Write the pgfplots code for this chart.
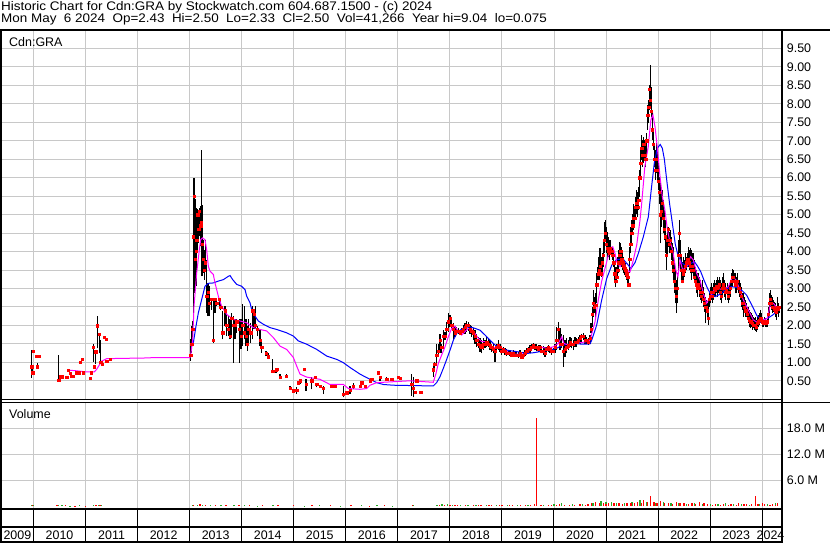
\documentclass[border=0pt]{standalone}
\usepackage{pgfplots}
\pgfplotsset{compat=1.18}
\usepackage{pgfplotstable}
\usepackage{fontspec}
\setmainfont{Liberation Sans}

\definecolor{gridc}{RGB}{200,200,200}
\definecolor{mafast}{RGB}{255,0,255}
\definecolor{maslow}{RGB}{0,0,255}
\definecolor{volred}{RGB}{255,0,0}
\definecolor{volgreen}{RGB}{40,170,40}
\newcommand{\lbl}{\fontsize{12.5}{14}\selectfont}

% daily bars: low, high, close
\pgfplotstableread{
x lo hi cl
2009.964 0.58 1.33 0.88
2009.984 0.70 0.93 0.72
2009.996 1.31 1.31 1.31
2010.048 1.17 1.17 1.17
2010.073 0.86 0.97 0.88
2010.105 1.17 1.17 1.17
2010.483 0.49 1.19 0.52
2010.509 0.57 0.66 0.61
2010.541 0.61 0.61 0.61
2010.637 0.59 0.59 0.59
2010.669 0.79 0.79 0.79
2010.701 0.70 0.70 0.70
2010.733 0.63 0.63 0.63
2010.765 0.63 0.63 0.63
2010.816 0.72 0.72 0.72
2010.880 0.72 0.72 0.72
2010.893 1.01 1.01 1.01
2010.931 1.08 1.08 1.08
2010.957 0.72 0.72 0.72
2011.085 0.58 0.58 0.58
2011.104 0.72 0.72 0.72
2011.149 1.01 1.49 1.42
2011.168 0.88 0.88 0.88
2011.194 0.95 1.29 1.29
2011.226 1.38 2.25 1.99
2011.264 1.24 1.78 1.76
2011.290 0.97 1.60 1.00
2011.316 0.95 0.95 0.95
2011.360 1.69 1.69 1.69
2011.392 1.62 1.62 1.62
2011.405 1.02 1.02 1.02
2011.469 1.08 1.08 1.08
2013.020 1.04 1.62 1.20
2013.039 1.26 1.98 1.50
2013.058 1.44 2.12 1.90
2013.071 2.34 5.81 4.40
2013.084 2.88 5.99 5.50
2013.103 3.24 5.41 3.80
2013.122 3.06 4.32 4.00
2013.135 3.60 5.18 4.30
2013.154 3.96 5.14 5.00
2013.174 4.23 5.05 4.60
2013.186 4.41 5.18 5.10
2013.212 4.14 5.23 4.70
2013.225 4.32 6.76 4.80
2013.238 3.33 5.27 4.20
2013.263 3.42 4.32 3.80
2013.282 3.24 4.05 3.50
2013.302 3.51 4.32 3.70
2013.327 2.34 3.78 2.80
2013.353 2.25 3.15 2.90
2013.379 2.25 3.06 2.60
2013.423 2.43 2.70 2.70
2013.455 1.53 2.70 1.60
2013.487 2.34 2.70 2.70
2013.519 2.52 2.70 2.60
2013.571 2.52 2.70 2.70
2013.596 2.43 2.70 2.50
2013.635 1.62 2.39 1.80
2013.680 1.98 2.52 2.40
2013.712 1.71 2.34 2.00
2013.744 1.71 2.25 1.90
2013.776 1.62 2.16 1.70
2013.808 1.71 2.34 2.20
2013.840 0.99 2.25 2.00
2013.872 1.62 2.16 2.00
2013.904 1.80 2.16 2.10
2013.955 0.99 2.16 1.90
2013.987 1.35 2.16 1.70
2014.019 1.44 2.57 2.00
2014.051 1.62 2.52 1.80
2014.083 1.44 2.16 1.70
2014.109 1.31 1.98 1.50
2014.134 1.44 2.16 1.90
2014.173 1.53 2.07 1.80
2014.211 1.62 2.52 2.40
2014.237 1.89 2.43 2.30
2014.262 1.89 2.52 2.00
2014.301 1.71 1.98 1.90
2014.352 1.44 1.89 1.60
2014.384 1.26 1.62 1.40
2014.467 1.17 1.31 1.25
2014.512 1.08 1.26 1.15
2014.595 0.72 1.08 0.75
2014.659 0.72 0.81 0.80
2014.672 0.81 0.81 0.81
2014.736 0.54 0.68 0.60
2014.852 0.59 0.68 0.62
2014.928 0.27 0.36 0.31
2014.993 0.23 0.23 0.23
2015.056 0.14 0.32 0.25
2015.088 0.45 0.45 0.45
2015.121 0.41 0.54 0.50
2015.197 0.81 0.81 0.81
2015.236 0.23 0.54 0.40
2015.345 0.27 0.59 0.50
2015.409 0.59 0.59 0.59
2015.441 0.32 0.45 0.40
2015.505 0.36 0.36 0.36
2015.569 0.14 0.36 0.30
2015.729 0.34 0.38 0.36
2015.793 0.36 0.36 0.36
2015.953 0.05 0.36 0.14
2016.017 0.18 0.18 0.18
2016.081 0.14 0.36 0.25
2016.145 0.27 0.45 0.35
2016.273 0.36 0.36 0.36
2016.305 0.36 0.50 0.45
2016.369 0.36 0.36 0.36
2016.465 0.45 0.56 0.50
2016.497 0.54 0.54 0.54
2016.625 0.72 0.72 0.72
2016.657 0.50 0.63 0.60
2016.785 0.52 0.61 0.55
2016.881 0.54 0.54 0.54
2017.010 0.59 0.59 0.59
2017.042 0.52 0.61 0.58
2017.266 0.09 0.68 0.40
2017.298 0.05 0.59 0.30
2017.330 0.20 0.20 0.20
2017.362 0.50 0.50 0.50
2017.438 0.20 0.20 0.20
2017.681 0.61 0.97 0.80
2017.707 0.84 1.02 0.95
2017.745 0.97 1.51 1.20
2017.777 1.20 1.51 1.30
2017.809 1.24 1.78 1.60
2017.842 1.24 1.51 1.40
2017.874 1.42 1.87 1.70
2017.906 1.60 1.83 1.70
2017.938 1.69 2.10 1.90
2017.970 1.83 2.33 2.10
2018.002 1.96 2.28 2.20
2018.034 1.92 2.19 2.00
2018.066 1.60 2.06 1.90
2018.098 1.69 1.98 1.80
2018.130 1.74 1.96 1.85
2018.162 1.78 1.92 1.85
2018.194 1.74 1.87 1.80
2018.226 1.74 1.92 1.85
2018.258 1.78 2.00 1.90
2018.290 1.78 2.07 1.95
2018.322 1.83 2.13 2.00
2018.354 1.86 2.10 2.00
2018.386 1.78 2.01 1.90
2018.418 1.69 1.98 1.85
2018.450 1.60 1.92 1.80
2018.482 1.51 1.87 1.70
2018.514 1.42 1.78 1.60
2018.546 1.38 1.69 1.50
2018.578 1.29 1.65 1.45
2018.610 1.24 1.60 1.40
2018.642 1.33 1.65 1.50
2018.674 1.38 1.60 1.50
2018.706 1.42 1.69 1.55
2018.738 1.42 1.65 1.50
2018.770 1.33 1.60 1.45
2018.802 1.29 1.51 1.40
2018.834 1.24 1.51 1.35
2018.866 1.02 1.42 1.30
2018.898 1.24 1.51 1.40
2018.930 1.33 1.60 1.45
2018.962 1.29 1.51 1.40
2018.994 1.20 1.42 1.30
2019.026 1.24 1.42 1.35
2019.058 1.20 1.38 1.30
2019.090 1.17 1.35 1.25
2019.122 1.20 1.33 1.25
2019.154 1.17 1.31 1.25
2019.186 1.15 1.29 1.20
2019.218 1.15 1.33 1.25
2019.250 1.15 1.29 1.20
2019.283 1.15 1.29 1.20
2019.315 1.13 1.29 1.20
2019.347 1.15 1.33 1.25
2019.379 1.11 1.29 1.15
2019.411 1.13 1.29 1.20
2019.443 1.17 1.33 1.25
2019.475 1.20 1.38 1.30
2019.507 1.24 1.42 1.35
2019.539 1.26 1.47 1.35
2019.571 1.33 1.51 1.40
2019.603 1.38 1.53 1.45
2019.635 1.33 1.51 1.40
2019.667 1.31 1.50 1.40
2019.699 1.29 1.47 1.35
2019.731 1.29 1.47 1.40
2019.763 1.24 1.42 1.30
2019.795 1.20 1.44 1.30
2019.827 1.15 1.42 1.25
2019.859 1.24 1.42 1.35
2019.891 1.29 1.47 1.40
2019.923 1.26 1.42 1.35
2019.955 1.20 1.42 1.30
2019.987 1.24 1.38 1.30
2020.019 1.24 1.51 1.40
2020.051 1.33 1.96 1.60
2020.083 1.60 2.10 1.90
2020.115 1.33 1.92 1.50
2020.147 1.38 1.78 1.50
2020.179 0.88 1.74 1.30
2020.211 1.15 1.60 1.35
2020.243 1.24 1.65 1.40
2020.275 1.33 1.60 1.45
2020.307 1.42 1.69 1.55
2020.339 1.38 1.65 1.50
2020.371 1.33 1.60 1.50
2020.403 1.42 1.69 1.55
2020.435 1.42 1.65 1.55
2020.467 1.51 1.69 1.60
2020.499 1.51 1.74 1.65
2020.531 1.56 1.78 1.70
2020.563 1.60 1.80 1.70
2020.595 1.51 1.74 1.60
2020.627 1.50 1.69 1.60
2020.659 1.47 1.65 1.55
2020.691 1.51 1.74 1.65
2020.711 1.79 2.06 1.90
2020.736 1.97 2.51 2.30
2020.755 2.24 2.96 2.60
2020.775 2.33 2.78 2.50
2020.800 2.24 2.87 2.55
2020.819 2.60 3.41 3.10
2020.845 3.23 3.59 3.40
2020.864 3.23 3.86 3.50
2020.884 3.41 4.09 3.60
2020.909 3.32 3.86 3.40
2020.928 3.41 3.95 3.70
2020.948 3.59 4.31 3.90
2020.967 3.95 4.81 4.30
2020.986 4.31 4.85 4.50
2021.005 3.95 4.67 4.20
2021.024 3.82 4.54 4.10
2021.044 3.86 4.40 4.00
2021.063 3.77 4.31 3.95
2021.082 3.95 4.31 4.10
2021.108 3.91 4.13 4.00
2021.127 3.77 4.13 3.90
2021.146 3.59 3.95 3.70
2021.165 3.23 3.73 3.40
2021.185 3.05 3.59 3.20
2021.204 3.14 3.59 3.30
2021.223 3.32 3.86 3.50
2021.242 3.41 4.04 3.70
2021.261 3.68 4.27 3.90
2021.281 3.77 4.22 4.00
2021.300 3.59 4.13 3.80
2021.319 3.50 3.95 3.70
2021.338 3.41 3.86 3.60
2021.357 3.36 3.77 3.55
2021.377 3.32 3.68 3.50
2021.396 3.23 3.59 3.40
2021.415 3.14 3.50 3.30
2021.434 3.05 3.41 3.10
2021.454 3.41 4.13 3.80
2021.473 3.95 4.67 4.20
2021.492 4.22 4.85 4.50
2021.511 4.49 5.03 4.70
2021.530 4.58 5.30 4.90
2021.550 4.67 5.21 4.90
2021.569 4.85 5.49 5.20
2021.588 5.03 5.67 5.30
2021.607 4.94 5.62 5.20
2021.626 5.12 5.76 5.40
2021.646 5.49 6.21 6.00
2021.665 6.03 6.75 6.40
2021.684 6.48 7.15 6.80
2021.703 6.30 7.02 6.60
2021.722 6.39 7.11 6.90
2021.742 6.48 7.02 6.60
2021.761 6.30 6.93 6.50
2021.780 6.48 7.20 7.00
2021.799 7.29 7.97 7.70
2021.819 7.47 8.10 7.90
2021.831 7.83 8.51 8.40
2021.851 7.92 9.05 8.10
2021.870 7.65 8.46 7.80
2021.889 7.02 7.74 7.30
2021.908 6.75 7.29 6.90
2021.927 6.30 6.93 6.50
2021.947 5.94 6.75 6.20
2021.966 6.12 6.93 6.50
2021.985 5.94 6.75 6.20
2022.004 5.67 6.43 5.90
2022.023 5.30 6.03 5.60
2022.043 4.22 5.85 5.00
2022.062 4.67 5.76 5.10
2022.081 4.94 5.67 5.30
2022.100 4.49 5.39 4.90
2022.120 4.31 5.12 4.60
2022.139 3.95 4.85 4.40
2022.158 3.50 4.40 3.90
2022.177 3.86 4.67 4.30
2022.196 4.13 4.67 4.60
2022.216 3.95 4.54 4.20
2022.235 4.04 4.58 4.30
2022.254 3.77 4.40 4.00
2022.273 3.41 4.22 3.70
2022.292 3.23 4.13 3.50
2022.312 2.87 3.77 3.20
2022.331 2.60 3.59 3.00
2022.350 2.33 3.23 2.80
2022.369 2.60 3.41 3.00
2022.389 3.41 4.31 3.90
2022.408 3.95 4.85 4.50
2022.427 3.50 4.31 3.90
2022.446 3.23 3.86 3.50
2022.465 3.14 3.73 3.20
2022.485 3.23 3.86 3.40
2022.504 3.32 3.77 3.50
2022.523 3.41 3.95 3.60
2022.542 3.50 3.86 3.70
2022.561 3.59 3.95 3.80
2022.581 3.59 4.13 3.80
2022.600 3.50 4.04 3.70
2022.619 3.41 4.09 3.60
2022.638 3.23 4.04 3.50
2022.657 3.41 3.95 3.60
2022.677 3.32 3.95 3.50
2022.696 3.14 3.77 3.30
2022.715 3.05 3.59 3.20
2022.734 2.87 3.50 3.10
2022.754 2.78 3.41 3.00
2022.773 2.96 3.41 3.10
2022.792 2.78 3.32 3.00
2022.811 2.69 3.23 2.90
2022.830 2.60 3.05 2.80
2022.850 2.69 3.23 2.90
2022.869 2.51 3.05 2.70
2022.888 2.37 2.87 2.60
2022.907 2.06 2.78 2.50
2022.926 2.33 2.69 2.50
2022.946 2.24 2.60 2.40
2022.965 2.01 2.69 2.20
2022.984 2.51 2.87 2.70
2023.003 2.60 3.05 2.80
2023.023 2.69 3.14 2.90
2023.042 2.60 3.05 2.80
2023.061 2.69 3.14 2.90
2023.080 2.78 3.23 3.00
2023.099 2.78 3.14 2.95
2023.119 2.87 3.23 3.05
2023.138 2.78 3.32 3.00
2023.157 2.87 3.23 3.05
2023.176 2.87 3.32 3.10
2023.195 2.69 3.23 2.90
2023.215 2.60 3.14 2.80
2023.234 2.78 3.32 3.00
2023.253 2.87 3.41 3.10
2023.272 2.78 3.23 3.00
2023.291 2.69 3.14 2.90
2023.311 2.87 3.05 2.95
2023.330 2.69 3.14 2.90
2023.349 2.60 3.05 2.80
2023.368 2.69 3.14 2.90
2023.388 2.78 3.23 3.00
2023.407 2.96 3.41 3.20
2023.426 3.05 3.54 3.30
2023.445 3.14 3.50 3.30
2023.464 3.05 3.41 3.20
2023.484 2.87 3.41 3.10
2023.503 2.87 3.32 3.10
2023.522 2.96 3.41 3.20
2023.541 2.87 3.23 3.00
2023.560 2.78 3.23 3.00
2023.580 2.69 3.14 2.90
2023.599 2.51 3.05 2.80
2023.618 2.42 2.87 2.60
2023.637 2.24 2.87 2.60
2023.657 2.33 2.78 2.50
2023.676 2.24 2.69 2.40
2023.695 2.24 2.60 2.40
2023.714 2.15 2.51 2.30
2023.733 2.06 2.51 2.20
2023.753 1.97 2.42 2.15
2023.772 1.92 2.37 2.10
2023.791 1.97 2.33 2.10
2023.810 1.88 2.28 2.05
2023.829 1.92 2.24 2.00
2023.849 1.88 2.19 2.00
2023.868 1.86 2.24 2.00
2023.887 1.83 2.15 1.95
2023.906 1.88 2.24 2.05
2023.926 1.97 2.28 2.10
2023.945 2.01 2.33 2.15
2023.964 2.06 2.42 2.20
2023.983 2.06 2.33 2.20
2024.002 1.97 2.24 2.10
2024.022 1.97 2.15 2.05
2024.041 2.01 2.24 2.10
2024.060 1.97 2.19 2.05
2024.079 1.95 2.15 2.05
2024.098 1.97 2.33 2.10
2024.118 2.06 2.51 2.30
2024.137 2.33 2.87 2.60
2024.156 2.51 2.96 2.70
2024.175 2.42 2.82 2.60
2024.194 2.33 2.78 2.50
2024.214 2.37 2.69 2.50
2024.233 2.33 2.64 2.45
2024.252 2.24 2.60 2.40
2024.271 2.15 2.51 2.35
2024.290 2.33 2.78 2.50
2024.310 2.24 2.60 2.45
2024.329 2.33 2.50 2.50
}\bars

% short moving average (magenta)
\pgfplotstableread{
x y
2010.669 0.79
2010.829 0.77
2011.021 0.74
2011.168 0.74
2011.213 0.81
2011.309 1.03
2011.405 1.10
2012.238 1.12
2012.270 1.13
2013.007 1.13
2013.026 1.26
2013.058 1.62
2013.084 2.52
2013.135 3.42
2013.186 4.05
2013.212 4.32
2013.244 4.37
2013.295 4.32
2013.327 4.05
2013.359 3.60
2013.391 3.47
2013.455 3.38
2013.487 3.15
2013.551 2.79
2013.615 2.52
2013.712 2.30
2013.840 2.16
2013.968 2.12
2014.096 2.07
2014.224 1.94
2014.352 1.89
2014.480 1.85
2014.608 1.67
2014.736 1.44
2014.864 1.35
2014.993 1.13
2015.056 0.90
2015.121 0.68
2015.249 0.60
2015.505 0.54
2015.697 0.40
2015.953 0.40
2016.049 0.29
2016.273 0.27
2016.401 0.29
2016.465 0.38
2016.593 0.45
2016.849 0.47
2017.234 0.50
2017.681 0.46
2017.733 0.70
2017.777 0.97
2017.842 1.20
2017.906 1.42
2017.970 1.69
2018.034 1.92
2018.098 1.98
2018.162 1.83
2018.226 1.74
2018.290 1.83
2018.354 1.92
2018.418 1.89
2018.482 1.78
2018.546 1.65
2018.610 1.56
2018.706 1.56
2018.802 1.42
2018.898 1.38
2018.962 1.42
2019.058 1.33
2019.154 1.24
2019.283 1.22
2019.411 1.22
2019.507 1.29
2019.603 1.40
2019.731 1.42
2019.859 1.38
2019.987 1.42
2020.083 1.51
2020.147 1.69
2020.192 1.51
2020.275 1.47
2020.371 1.51
2020.499 1.53
2020.627 1.56
2020.692 1.60
2020.788 2.10
2020.851 2.69
2020.916 3.20
2021.012 3.72
2021.076 4.09
2021.128 4.13
2021.172 3.95
2021.205 3.72
2021.268 3.59
2021.332 3.77
2021.397 3.50
2021.460 3.45
2021.524 3.77
2021.589 4.18
2021.652 4.85
2021.684 5.30
2021.745 6.30
2021.810 6.84
2021.860 7.56
2021.900 7.70
2021.940 7.38
2021.990 6.75
2022.030 6.12
2022.080 5.49
2022.130 5.12
2022.180 4.58
2022.220 4.31
2022.280 4.04
2022.340 3.50
2022.380 3.32
2022.421 3.77
2022.472 3.50
2022.549 3.59
2022.625 3.86
2022.677 3.77
2022.741 3.41
2022.805 3.23
2022.869 2.87
2022.933 2.60
2022.997 2.78
2023.074 2.96
2023.157 3.00
2023.253 2.96
2023.349 3.05
2023.432 3.32
2023.496 3.23
2023.573 2.96
2023.637 2.69
2023.733 2.42
2023.829 2.15
2023.926 2.06
2024.022 2.15
2024.098 2.19
2024.162 2.60
2024.214 2.60
2024.265 2.51
2024.310 2.42
}\mafast

% long moving average (blue)
\pgfplotstableread{
x y
2013.071 1.53
2013.122 1.98
2013.167 2.34
2013.231 2.70
2013.295 3.06
2013.359 3.14
2013.455 3.15
2013.551 3.20
2013.648 3.24
2013.744 3.33
2013.776 3.35
2013.827 3.24
2013.904 3.11
2014.000 3.06
2014.064 2.97
2014.096 2.79
2014.160 2.61
2014.192 2.43
2014.256 2.25
2014.320 2.12
2014.416 2.03
2014.544 1.94
2014.672 1.89
2014.864 1.80
2014.993 1.71
2015.088 1.58
2015.249 1.49
2015.441 1.35
2015.633 1.17
2015.825 1.08
2015.953 0.99
2016.081 0.86
2016.273 0.68
2016.465 0.54
2016.593 0.45
2016.721 0.40
2016.914 0.38
2017.681 0.36
2017.745 0.45
2017.809 0.61
2017.874 0.84
2017.938 1.08
2018.002 1.33
2018.066 1.60
2018.130 1.78
2018.194 1.87
2018.290 1.95
2018.386 1.96
2018.482 1.92
2018.578 1.87
2018.674 1.74
2018.770 1.60
2018.866 1.47
2018.962 1.38
2019.090 1.33
2019.283 1.29
2019.475 1.24
2019.603 1.26
2019.731 1.29
2019.923 1.33
2020.051 1.38
2020.179 1.47
2020.371 1.51
2020.563 1.49
2020.691 1.50
2020.724 1.60
2020.820 2.01
2020.916 2.69
2021.012 3.27
2021.109 3.63
2021.205 3.79
2021.331 3.79
2021.428 3.63
2021.479 3.54
2021.556 3.70
2021.620 3.95
2021.716 4.40
2021.812 4.94
2021.870 5.70
2021.927 6.40
2021.985 6.80
2022.040 6.90
2022.080 6.80
2022.120 6.50
2022.160 6.00
2022.220 5.30
2022.280 4.70
2022.330 4.20
2022.380 3.90
2022.450 3.70
2022.550 3.60
2022.630 3.68
2022.700 3.72
2022.760 3.60
2022.820 3.45
2022.880 3.23
2022.950 3.00
2023.000 2.87
2023.100 2.78
2023.200 2.85
2023.300 2.96
2023.400 3.05
2023.500 3.03
2023.600 2.96
2023.700 2.82
2023.800 2.55
2023.900 2.26
2024.000 2.15
2024.100 2.19
2024.200 2.28
2024.300 2.40
2024.330 2.46
}\maslow

% volume, millions of shares
\pgfplotstableread{
x v
2009.98 0.20
2010.45 0.18
2010.62 0.15
2010.80 0.12
2011.00 0.10
2011.20 0.30
2011.28 0.20
2013.08 0.35
2013.20 0.40
2013.30 0.30
2013.50 0.25
2013.70 0.20
2013.95 0.25
2014.15 0.20
2014.40 0.30
2014.70 0.15
2015.00 0.20
2015.35 0.15
2015.70 0.20
2016.10 0.15
2016.45 0.12
2016.75 0.15
2017.28 0.30
2017.80 0.30
2017.90 0.20
2018.00 0.25
2018.10 0.20
2018.15 0.30
2018.30 0.15
2018.45 0.25
2018.55 0.20
2018.60 0.20
2018.75 0.15
2018.80 0.25
2018.95 0.20
2019.00 0.20
2019.15 0.20
2019.20 0.30
2019.35 0.15
2019.45 0.25
2019.55 0.20
2019.62 0.40
2019.67 20.40
2019.75 0.20
2019.90 0.30
2019.95 0.25
2020.05 0.35
2020.10 0.50
2020.20 0.30
2020.30 0.35
2020.40 0.30
2020.50 0.40
2020.60 0.30
2020.65 0.50
2020.72 0.60
2020.80 0.90
2020.88 0.80
2020.95 0.70
2021.00 0.50
2021.05 0.60
2021.15 0.60
2021.25 0.80
2021.32 0.50
2021.40 0.60
2021.48 0.70
2021.55 0.60
2021.60 0.90
2021.68 0.80
2021.72 1.50
2021.80 1.00
2021.86 2.30
2021.92 0.90
2021.98 0.70
2022.05 1.20
2022.12 0.60
2022.20 0.80
2022.28 0.50
2022.35 1.00
2022.42 0.70
2022.50 0.60
2022.58 0.50
2022.65 0.70
2022.72 0.50
2022.80 1.00
2022.88 0.60
2022.95 0.50
2023.05 0.35
2023.10 0.40
2023.20 0.30
2023.25 0.50
2023.35 0.35
2023.40 0.45
2023.50 0.30
2023.55 0.60
2023.65 0.40
2023.70 0.50
2023.80 0.45
2023.87 2.30
2023.92 0.50
2024.00 0.60
2024.05 0.40
2024.15 0.35
2024.20 0.50
2024.25 0.30
2024.30 0.70
}\volred

\pgfplotstableread{
x v
2009.96 0.25
2010.00 0.15
2010.48 0.20
2010.55 0.15
2010.70 0.12
2010.88 0.18
2011.15 0.20
2011.25 0.25
2011.30 0.18
2013.05 0.20
2013.15 0.30
2013.25 0.25
2013.40 0.20
2013.60 0.15
2013.85 0.20
2014.05 0.15
2014.30 0.12
2014.60 0.15
2015.20 0.12
2015.50 0.15
2015.90 0.12
2016.30 0.15
2016.60 0.18
2016.90 0.12
2017.30 0.15
2017.75 0.30
2017.85 0.45
2017.95 0.50
2018.05 0.35
2018.20 0.30
2018.35 0.25
2018.50 0.30
2018.70 0.25
2018.90 0.20
2019.10 0.25
2019.30 0.20
2019.50 0.30
2019.80 0.35
2020.00 0.40
2020.15 0.60
2020.35 0.40
2020.55 0.50
2020.75 0.80
2020.90 1.20
2021.00 0.90
2021.10 1.00
2021.20 0.70
2021.35 0.80
2021.50 0.90
2021.65 1.30
2021.78 1.00
2021.95 0.80
2022.10 0.90
2022.25 0.70
2022.40 0.60
2022.55 0.50
2022.70 0.60
2022.85 0.50
2023.00 0.40
2023.15 0.50
2023.30 0.60
2023.45 0.50
2023.60 0.40
2023.75 0.35
2023.95 0.50
2024.10 0.40
2024.25 0.60
}\volgreen

\begin{document}
\begin{tikzpicture}
\useasboundingbox[fill=white] (0bp,0bp) rectangle (830bp,543bp);
\pgfplotsset{
  panel/.style={
    scale only axis, width=780bp, anchor=south west,
    xmin=2009.395, xmax=2024.38,
    xtick={2010,...,2024}, xticklabels={},
    major tick length=0pt,
    grid=major, grid style={gridc, line width=0.9bp},
    axis line style={draw=none},
    yticklabel pos=right,
    tick label style={font=\lbl},
    yticklabel style={inner sep=0pt, xshift=4.7bp},
  }
}

% price panel
\begin{axis}[panel, at={(2bp,143bp)}, height=370bp, ymin=-0.02, ymax=10,
  ytick={0.5,1,1.5,2,2.5,3,3.5,4,4.5,5,5.5,6,6.5,7,7.5,8,8.5,9,9.5},
  yticklabels={0.50,1.00,1.50,2.00,2.50,3.00,3.50,4.00,4.50,5.00,5.50,6.00,6.50,7.00,7.50,8.00,8.50,9.00,9.50}]
\addplot[black, draw=none, mark=none,
  error bars/.cd, y dir=plus, y explicit, error mark=none,
  error bar style={draw=black, line width=1.1bp}]
  table[x=x, y=lo, y error plus expr=\thisrow{hi}-\thisrow{lo}] {\bars};
\addplot[red, only marks, mark=square*, mark size=1.1bp] table[x=x, y=cl] {\bars};
\addplot[maslow, line width=1bp] table {\maslow};
\addplot[mafast, line width=1bp] table {\mafast};
\end{axis}

% volume panel
\begin{axis}[panel, at={(2bp,34bp)}, height=107bp, ymin=-0.69, ymax=24.1,
  ytick={6,12,18}, yticklabels={6.0 M,12.0 M,18.0 M}]
\addplot[volgreen, ycomb, line width=1.3bp] table[x=x, y=v] {\volgreen};
\addplot[volred, ycomb, line width=1.3bp] table[x=x, y=v] {\volred};
\end{axis}

% date strip
\begin{axis}[scale only axis, width=780bp, height=33bp, anchor=south west, at={(2bp,1bp)},
  xmin=2009.395, xmax=2024.38, ymin=0, ymax=33,
  xtick={2010,...,2024}, xticklabels={}, ytick=\empty, major tick length=0pt,
  xmajorgrids, grid style={black, line width=1bp}, axis line style={draw=none}, clip=false]
\node[anchor=base, font=\lbl] at (axis cs:2009.69,3) {2009};
\node[anchor=base, font=\lbl] at (axis cs:2010.5,3) {2010};
\node[anchor=base, font=\lbl] at (axis cs:2011.5,3) {2011};
\node[anchor=base, font=\lbl] at (axis cs:2012.5,3) {2012};
\node[anchor=base, font=\lbl] at (axis cs:2013.5,3) {2013};
\node[anchor=base, font=\lbl] at (axis cs:2014.5,3) {2014};
\node[anchor=base, font=\lbl] at (axis cs:2015.5,3) {2015};
\node[anchor=base, font=\lbl] at (axis cs:2016.5,3) {2016};
\node[anchor=base, font=\lbl] at (axis cs:2017.5,3) {2017};
\node[anchor=base, font=\lbl] at (axis cs:2018.5,3) {2018};
\node[anchor=base, font=\lbl] at (axis cs:2019.5,3) {2019};
\node[anchor=base, font=\lbl] at (axis cs:2020.5,3) {2020};
\node[anchor=base, font=\lbl] at (axis cs:2021.5,3) {2021};
\node[anchor=base, font=\lbl] at (axis cs:2022.5,3) {2022};
\node[anchor=base, font=\lbl] at (axis cs:2023.5,3) {2023};
\node[anchor=base, font=\lbl] at (axis cs:2024.16,3) {2024};
\end{axis}

% frame
\draw[line width=2bp] (0bp,513bp) -- (830bp,513bp);
\draw[line width=2bp] (1bp,0bp) -- (1bp,514bp);
\draw[line width=2bp] (782bp,0bp) -- (782bp,514bp);
\draw[line width=1bp] (0bp,143bp) -- (782bp,143bp);
\draw[line width=1bp] (0bp,140.5bp) -- (830bp,140.5bp);
\draw[line width=2bp] (0bp,34bp) -- (782bp,34bp);
\draw[line width=1.5bp] (0bp,16bp) -- (782bp,16bp);
\draw[line width=1.5bp] (0bp,1bp) -- (782bp,1bp);

% header and panel captions
\node[anchor=base west, inner sep=0pt, font=\lbl] at (1bp,532.5bp)
  {\scalebox{1.085}[1]{Historic Chart for Cdn:GRA by Stockwatch.com 604.687.1500 - (c) 2024}};
\node[anchor=base west, inner sep=0pt, font=\lbl] at (1bp,520.7bp)
  {\scalebox{1.08}[1]{Mon May\ \ 6 2024\ \ Op=2.43\ \ Hi=2.50\ \ Lo=2.33\ \ Cl=2.50\ \ Vol=41,266\ \ Year hi=9.04\ \ lo=0.075}};
\node[anchor=base west, inner sep=0pt, font=\lbl] at (9bp,496.3bp) {Cdn:GRA};
\node[anchor=base west, inner sep=0pt, font=\lbl] at (9bp,124.5bp) {Volume};
\end{tikzpicture}
\end{document}
